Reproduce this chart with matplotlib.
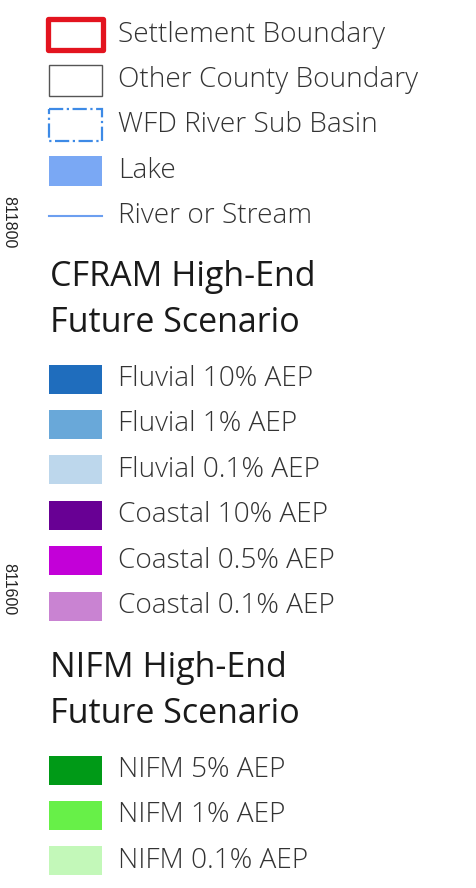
import matplotlib.pyplot as plt
from matplotlib.patches import Rectangle

plt.rcParams['font.family'] = ['Open Sans', 'DejaVu Sans']

# legend content
base_labels = ['Settlement Boundary', 'Other County Boundary', 'WFD River Sub Basin',
               'Lake', 'River or Stream']
cfram_title = ['CFRAM High-End', 'Future Scenario']
cfram_labels = ['Fluvial 10% AEP', 'Fluvial 1% AEP', 'Fluvial 0.1% AEP',
                'Coastal 10% AEP', 'Coastal 0.5% AEP', 'Coastal 0.1% AEP']
cfram_colors = ['#1f6dbd', '#69a8d9', '#bdd7ec', '#680094', '#c300d8', '#c983d2']
nifm_title = ['NIFM High-End', 'Future Scenario']
nifm_labels = ['NIFM 5% AEP', 'NIFM 1% AEP', 'NIFM 0.1% AEP']
nifm_colors = ['#009a17', '#67f048', '#c3f8b9']
grid_labels = ['811800', '811600']

txt = '#333333'
fig = plt.figure(figsize=(4.77, 8.88), dpi=100)
ax = fig.add_axes([0, 0, 1, 1])
ax.set_xlim(0, 477)
ax.set_ylim(888, 0)
ax.axis('off')

sx, sw, sh = 49, 53, 29
tx = 118
fs = 20.2

def label(y, s):
    ax.text(tx, y, s, fontsize=fs, color=txt, va='center', ha='left', fontweight='light')

# base layers
y0, dy = 35, 45.2
ys = [y0 + i * dy for i in range(len(base_labels))]
ax.add_patch(Rectangle((48.5, ys[0] - 15.5), 55, 31, fill=False, ec='#e3141f', lw=3.8, joinstyle='round'))
ax.add_patch(Rectangle((sx, ys[1] - 15), sw, 31, fill=False, ec='#555555', lw=1.0))
ax.add_patch(Rectangle((sx, ys[2] - 16), sw, 32, fill=False, ec='#3d8ae6', lw=1.6, ls='-.'))
ax.add_patch(Rectangle((sx, ys[3] - 15), sw, 30, fc='#7aa8f4', ec='none'))
ax.plot([sx, sx + sw], [ys[4], ys[4]], color='#6c9ff0', lw=1.5)
for y, s in zip(ys, base_labels):
    label(y, s)

def section(title, ty, labels, colors, ry0):
    for j, line in enumerate(title):
        ax.text(50, ty + j * 46, line, fontsize=24.5, color='#1a1a1a', va='center', ha='left')
    for i, (s, c) in enumerate(zip(labels, colors)):
        y = ry0 + i * 45.4
        ax.add_patch(Rectangle((sx, y - sh / 2), sw, sh, fc=c, ec='none'))
        label(y, s)

section(cfram_title, 277, cfram_labels, cfram_colors, 379)
section(nifm_title, 668, nifm_labels, nifm_colors, 770)

for y, s in zip([222, 589], grid_labels):
    ax.text(9, y, s, fontsize=11.5, rotation=270, color='#222222', va='center', ha='center',
            family='Liberation Sans')

fig.savefig('out.png', dpi=100, facecolor='white')
